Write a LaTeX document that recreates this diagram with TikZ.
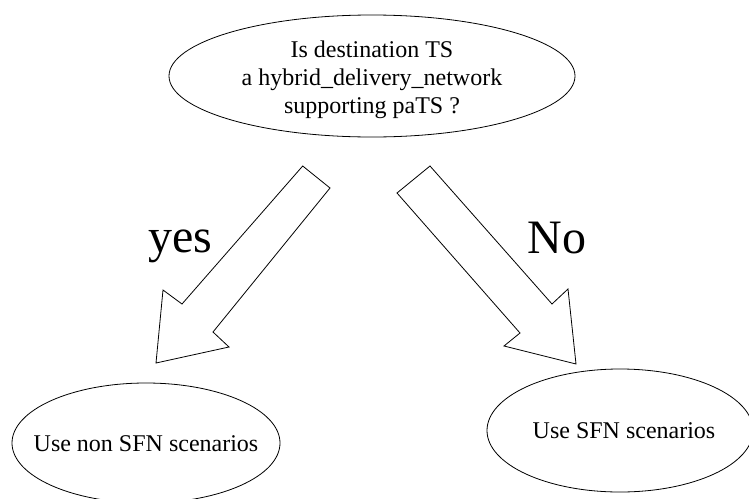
\documentclass[tikz,border=0pt]{standalone}
\usepackage{fontspec}
\setmainfont{Liberation Serif}
\begin{document}
\begin{tikzpicture}[x=1pt,y=-1pt,
  ovaltext/.style={inner sep=0pt,font=\fontsize{24}{28}\selectfont,align=center},
  ovalline/.style={draw,line width=0.8pt},
  blockarrow/.style={draw,line width=0.8pt,line join=miter},
  biglabel/.style={font=\fontsize{48}{56}\selectfont,inner sep=0pt}]
\useasboundingbox (0,0) rectangle (749,498);
\clip (0,0) rectangle (749,498);
\node[ovaltext] (q) at (372,80) {Is destination TS\\a hybrid\_delivery\_network\\supporting paTS ?};
\draw[ovalline] (372,76) ellipse [x radius=203, y radius=61];
\node[ovaltext] (yesbox) at (146,444) {Use non SFN scenarios};
\draw[ovalline] (146,443) ellipse [x radius=134, y radius=60];
\node[ovaltext] (nobox) at (624,431) {Use SFN scenarios};
\draw[ovalline] (620,430.5) ellipse [x radius=133, y radius=61.5];
% left block arrow
\draw[blockarrow] (302.7,166) -- (330,188) -- (213,332) -- (229,347) -- (156,363) -- (163,290) -- (182,304) -- cycle;
% right block arrow
\draw[blockarrow] (430,166) -- (397,193) -- (520,333) -- (504,346) -- (576,364) -- (568,289) -- (552,304) -- cycle;
\node[biglabel,anchor=base] (yes) at (180,252) {yes};
\node[biglabel,anchor=base] (no) at (557,253) {No};
\end{tikzpicture}
\end{document}
